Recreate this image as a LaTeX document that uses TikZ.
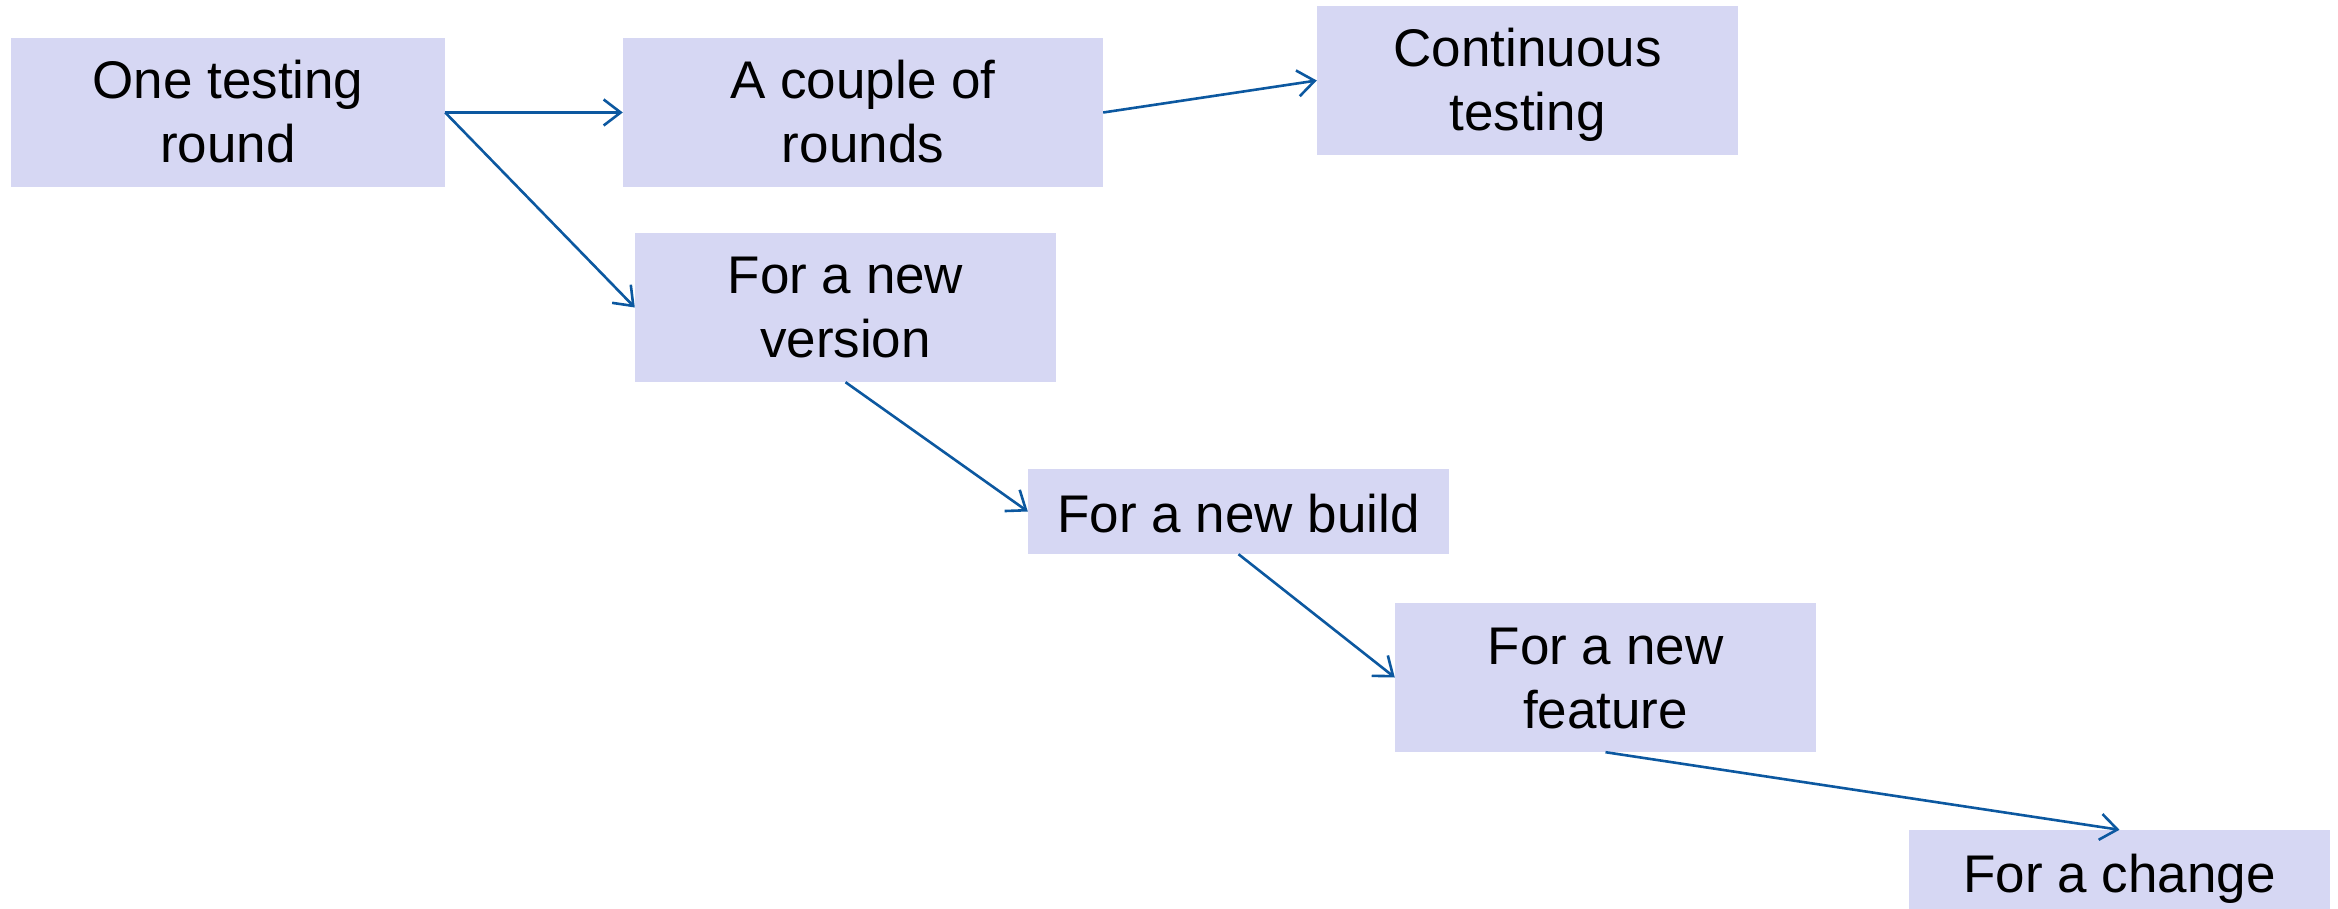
\documentclass[tikz,border=0pt]{standalone}
\usepackage{fontspec}
\setmainfont{Liberation Sans}
\usetikzlibrary{arrows.meta}
\definecolor{boxfill}{RGB}{214,215,243}
\definecolor{arrowblue}{RGB}{12,88,160}
\tikzset{
  stagebox/.style={draw=none, fill=boxfill, inner sep=0pt, minimum height=149pt, minimum width=421pt},
  shortbox/.style={stagebox, minimum height=85pt},
  lbl/.style={anchor=base, inner sep=0pt, font=\fontsize{53}{64}\selectfont},
  conn/.style={draw=arrowblue, line width=2.6pt, -{Straight Barb[length=17pt,width=26pt,line width=2.6pt]}}
}
\begin{document}
\begin{tikzpicture}[x=1pt,y=-1pt]
\clip (0,0) rectangle (2338,909);
\fill[white] (0,0) rectangle (2338,909);
% boxes
\node[stagebox, minimum width=434pt] (b1) at (228,112.5) {};
\node[stagebox, minimum width=480pt] (b2) at (863,112.5) {};
\node[stagebox] (b3) at (1527.5,80.5) {};
\node[stagebox] (b4) at (845.5,307.5) {};
\node[shortbox] (b5) at (1238.5,511.5) {};
\node[stagebox] (b6) at (1605.5,677.5) {};
\node[shortbox] (b7) at (2119.5,872.5) {};
% labels
\node[lbl] (t1a) at (228,99) {One testing};
\node[lbl] (t1b) at (228,163) {round};
\node[lbl] (t2a) at (863,99) {A couple of};
\node[lbl] (t2b) at (863,163) {rounds};
\node[lbl] (t3a) at (1527.5,67) {Continuous};
\node[lbl] (t3b) at (1527.5,131) {testing};
\node[lbl] (t4a) at (845.5,294) {For a new};
\node[lbl] (t4b) at (845.5,358) {version};
\node[lbl] (t5a) at (1238.5,532) {For a new build};
\node[lbl] (t6a) at (1605.5,664) {For a new};
\node[lbl] (t6b) at (1605.5,728) {feature};
\node[lbl] (t7a) at (2119.5,892) {For a change};
% connectors
\draw[conn] (b1.east) -- (b2.west);
\draw[conn] (b1.east) -- (b4.west);
\draw[conn] (b2.east) -- (b3.west);
\draw[conn] (b4.south) -- (b5.west);
\draw[conn] (b5.south) -- (b6.west);
\draw[conn] (b6.south) -- (b7.north);
\end{tikzpicture}
\end{document}
